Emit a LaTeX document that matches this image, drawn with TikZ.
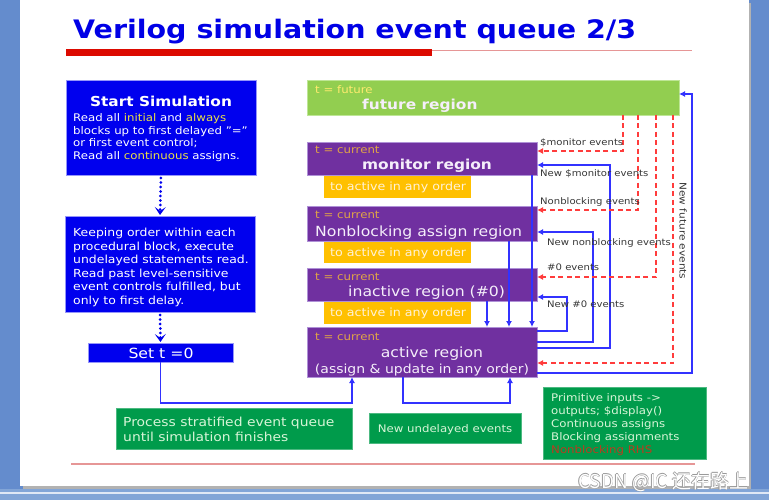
\documentclass[tikz,border=0pt]{standalone}
\usepackage{fontspec}
\setmainfont{DejaVu Sans}[FakeStretch=1.12]
\newfontfamily\cjkfont{Noto Sans CJK SC}
\usetikzlibrary{arrows.meta}
\definecolor{ttlblue}{RGB}{0,0,230}
\definecolor{boxblue}{RGB}{0,0,238}
\definecolor{boxedge}{RGB}{150,150,250}
\definecolor{purp}{RGB}{112,48,160}
\definecolor{purpedge}{RGB}{175,145,215}
\definecolor{fgreen}{RGB}{146,206,80}
\definecolor{fedge}{RGB}{190,230,150}
\definecolor{orng}{RGB}{255,192,0}
\definecolor{dgreen}{RGB}{0,155,75}
\definecolor{lineblue}{RGB}{50,50,255}
\definecolor{dashred}{RGB}{255,60,60}
\definecolor{barred}{RGB}{220,10,0}
\definecolor{thinred}{RGB}{230,150,150}
\definecolor{tcur}{RGB}{225,165,70}
\definecolor{tfut}{RGB}{255,235,110}
\definecolor{paletxt}{RGB}{255,242,215}
\definecolor{greentxt}{RGB}{215,245,215}
\definecolor{regtxt}{RGB}{245,238,250}
\definecolor{yeltxt}{RGB}{235,225,70}
\definecolor{labgray}{RGB}{55,55,55}
\definecolor{rhsred}{RGB}{185,60,30}
\definecolor{frameblue}{RGB}{100,140,205}
\definecolor{stripblue}{RGB}{130,165,215}
\newcommand\fs[1]{\fontsize{#1}{#1}\selectfont}
\begin{document}
\begin{tikzpicture}[x=1pt,y=-1pt,
  rect/.style={draw, line width=0.8pt, inner sep=0pt, outer sep=0pt, anchor=north west},
  bluebox/.style={rect, fill=boxblue, draw=boxedge},
  purpbox/.style={rect, fill=purp, draw=purpedge, minimum width=230pt},
  orngbox/.style={rect, fill=orng, draw=orng, minimum width=146pt},
  grnbox/.style={rect, fill=dgreen, draw=dgreen!70!white},
  txt/.style={anchor=base west, inner sep=0pt},
  ctxt/.style={anchor=base, inner sep=0pt},
  lab/.style={txt, font=\fs{9}, text=labgray},
  tcurr/.style={txt, font=\fs{10.5}, text=tcur},
  ortxt/.style={txt, font=\fs{11.3}, text=paletxt},
  bline/.style={lineblue, line width=1.8pt},
  barr/.style={bline, -{Latex[length=6pt,width=6pt]}},
  rdash/.style={dashred, line width=1.8pt, dash pattern=on 5pt off 3.5pt, -{Latex[length=6pt,width=6pt]}},
  dotarr/.style={boxblue, line width=3pt, line cap=round, dash pattern=on 0pt off 4.5pt, -{Stealth[length=8pt,width=11pt,inset=4pt]}, shorten <=3pt, shorten >=1pt}
]
\useasboundingbox (0,0) rectangle (769,500);
% slide background
\fill[frameblue] (0,0) rectangle (769,500);
\fill[stripblue] (0,489) rectangle (769,500);
\fill[white!80!frameblue] (0,492) rectangle (769,494);
\fill[black!30] (23,3) rectangle (751,489);
\fill[white] (20,0) rectangle (749,486);

% title
\node[txt, font=\bfseries\fs{25.45}, text=ttlblue] (title) at (73,39) {Verilog simulation event queue 2/3};
\fill[barred] (66,49.5) rectangle (432,56);
\draw[thinred, line width=1.6pt] (432,50.5) -- (692,50.5);
\draw[thinred, line width=1.8pt] (71,464) -- (695,464);

% left column
\node[bluebox, minimum width=190pt, minimum height=95pt] (start) at (66,80) {};
\node[ctxt, font=\bfseries\fs{13.7}, text=white] (startT) at (161,107) {Start Simulation};
\node[txt, font=\fs{10.5}, text=white] (s1) at (73,122) {Read all \textcolor{yeltxt}{initial} and \textcolor{yeltxt}{always}};
\node[txt, font=\fs{10.5}, text=white] (s2) at (73,134.5) {blocks up to first delayed "="};
\node[txt, font=\fs{10.5}, text=white] (s3) at (73,147) {or first event control;};
\node[txt, font=\fs{10.5}, text=white] (s4) at (73,159.5) {Read all \textcolor{yeltxt}{continuous} assigns.};

\node[bluebox, minimum width=190pt, minimum height=96pt] (keep) at (65,216) {};
\node[txt, font=\fs{11.1}, text=white] (k1) at (73,236.5) {Keeping order within each};
\node[txt, font=\fs{11.1}, text=white] (k2) at (73,250) {procedural block, execute};
\node[txt, font=\fs{11.1}, text=white] (k3) at (73,263.5) {undelayed statements read.};
\node[txt, font=\fs{11.1}, text=white] (k4) at (73,277) {Read past level-sensitive};
\node[txt, font=\fs{11.1}, text=white] (k5) at (73,290.5) {event controls fulfilled, but};
\node[txt, font=\fs{11.1}, text=white] (k6) at (73,304) {only to first delay.};

\node[bluebox, minimum width=145pt, minimum height=19pt] (sett) at (88,343) {};
\node[ctxt, font=\fs{14}, text=white] (settT) at (161,358) {Set t =0};

\draw[dotarr] (start.south) -- (keep.north);
\draw[dotarr] (keep.south) -- (sett.north);

% right column regions
\node[rect, fill=fgreen, draw=fedge, minimum width=372pt, minimum height=35pt] (fut) at (307,80) {};
\node[txt, font=\fs{10.5}, text=tfut] (futT) at (315,93.5) {t = future};
\node[txt, font=\bfseries\fs{13.75}, text=regtxt] (futN) at (362,109.5) {future region};

\node[purpbox, minimum height=33.5pt] (mon) at (307,142) {};
\node[tcurr] (monT) at (315,153.5) {t = current};
\node[txt, font=\bfseries\fs{13.75}, text=regtxt] (monN) at (362,169.5) {monitor region};
\node[orngbox, minimum height=21pt] (o1) at (324,176) {};
\node[ortxt] (o1T) at (330,191) {to active in any order};

\node[purpbox, minimum height=35pt] (nbl) at (307,206) {};
\node[tcurr] (nblT) at (315,218.5) {t = current};
\node[txt, font=\fs{14}, text=regtxt] (nblN) at (315,236.5) {Nonblocking assign region};
\node[orngbox, minimum height=20pt] (o2) at (324,242) {};
\node[ortxt] (o2T) at (330,256) {to active in any order};

\node[purpbox, minimum height=33pt] (inact) at (307,268) {};
\node[tcurr] (inactT) at (315,280.5) {t = current};
\node[txt, font=\fs{14}, text=regtxt] (inactN) at (348,296) {inactive region (\#0)};
\node[orngbox, minimum height=21pt] (o3) at (324,302) {};
\node[ortxt] (o3T) at (330,316) {to active in any order};

\node[purpbox, minimum height=50pt] (act) at (307,327) {};
\node[tcurr] (actT) at (315,340.5) {t = current};
\node[ctxt, font=\fs{14}, text=regtxt] (actN) at (432,357.5) {active region};
\node[ctxt, font=\fs{12.5}, text=regtxt] (actS) at (422,373) {(assign \& update in any order)};

% green boxes
\node[grnbox, minimum width=236pt, minimum height=41pt] (proc) at (116,408) {};
\node[txt, font=\fs{12.4}, text=greentxt] (p1) at (123,426.5) {Process stratified event queue};
\node[txt, font=\fs{12.4}, text=greentxt] (p2) at (123,441.5) {until simulation finishes};
\node[grnbox, minimum width=152pt, minimum height=30pt] (und) at (369,413) {};
\node[ctxt, font=\fs{10.5}, text=greentxt] (undT) at (445,432) {New undelayed events};
\node[grnbox, minimum width=163pt, minimum height=72pt] (prim) at (543,387) {};
\node[txt, font=\fs{10.5}, text=greentxt] (m1) at (551,401) {Primitive inputs ->};
\node[txt, font=\fs{10.5}, text=greentxt] (m2) at (551,414.2) {outputs; \$display()};
\node[txt, font=\fs{10.5}, text=greentxt] (m3) at (551,427.4) {Continuous assigns};
\node[txt, font=\fs{10.5}, text=greentxt] (m4) at (551,440.6) {Blocking assignments};
\node[txt, font=\fs{10.5}, text=rhsred] (m5) at (551,453.8) {Nonblocking RHS};

% connectors bottom
\coordinate (j1) at (352,403);
\draw[barr] (sett.south) |- (j1) -- (j1 |- act.south);
\coordinate (j2a) at (403,403);
\coordinate (j2b) at (510,403);
\draw[barr] (j2a |- act.south) -- (j2a) -- (j2b) -- (j2b |- act.south);

% down arrows into active
\coordinate (d1) at (487,0);
\coordinate (d2) at (509,0);
\coordinate (d3) at (532,0);
\draw[barr] (d1 |- inact.south) -- (d1 |- act.north);
\draw[barr] (d2 |- nbl.south) -- (d2 |- act.north);
\draw[barr] (d3 |- mon.south) -- (d3 |- act.north);

% feedback loops
\coordinate (r1b) at (567,331); \coordinate (r1t) at (567,297);
\draw[barr] (act.east |- r1b) -- (r1b) -- (r1t) -- (inact.east |- r1t);
\coordinate (r2b) at (593,342); \coordinate (r2t) at (593,232);
\draw[barr] (act.east |- r2b) -- (r2b) -- (r2t) -- (nbl.east |- r2t);
\coordinate (r3b) at (610,348); \coordinate (r3t) at (610,165);
\draw[barr] (act.east |- r3b) -- (r3b) -- (r3t) -- (mon.east |- r3t);
\coordinate (r4b) at (692,373); \coordinate (r4t) at (692,94);
\draw[barr] (act.east |- r4b) -- (r4b) -- (r4t) -- (fut.east |- r4t);

% red dashed from future
\coordinate (q1) at (623,151);
\draw[rdash] (q1 |- fut.south) -- (q1) -- (mon.east |- q1);
\coordinate (q2) at (638,210);
\draw[rdash] (q2 |- fut.south) -- (q2) -- (nbl.east |- q2);
\coordinate (q3) at (656,277);
\draw[rdash] (q3 |- fut.south) -- (q3) -- (inact.east |- q3);
\coordinate (q4) at (673,363);
\draw[rdash] (q4 |- fut.south) -- (q4) -- (act.east |- q4);

% labels
\node[lab] (l1) at (540,145.5) {\$monitor events};
\node[lab] (l2) at (540,176.5) {New \$monitor events};
\node[lab] (l3) at (540,204.5) {Nonblocking events};
\node[lab] (l4) at (547,245.5) {New nonblocking events};
\node[lab] (l5) at (547,270.5) {\#0 events};
\node[lab] (l6) at (547,307.5) {New \#0 events};
\node[font=\fs{9.4}, text=labgray, inner sep=0pt, rotate=-90] (l7) at (683,231) {New future events};

% watermark
\foreach \dx/\dy [count=\i] in {0.5/0, -0.5/0, 0/0.5, 0/-0.5}
  \node[txt, font=\cjkfont\fs{19}, text=black!40] (wm\i) at (578+\dx,488+\dy) {CSDN @IC 还在路上};
\node[txt, font=\cjkfont\fs{19}, text=white] (wm) at (578,488) {CSDN @IC 还在路上};
\end{tikzpicture}
\end{document}
